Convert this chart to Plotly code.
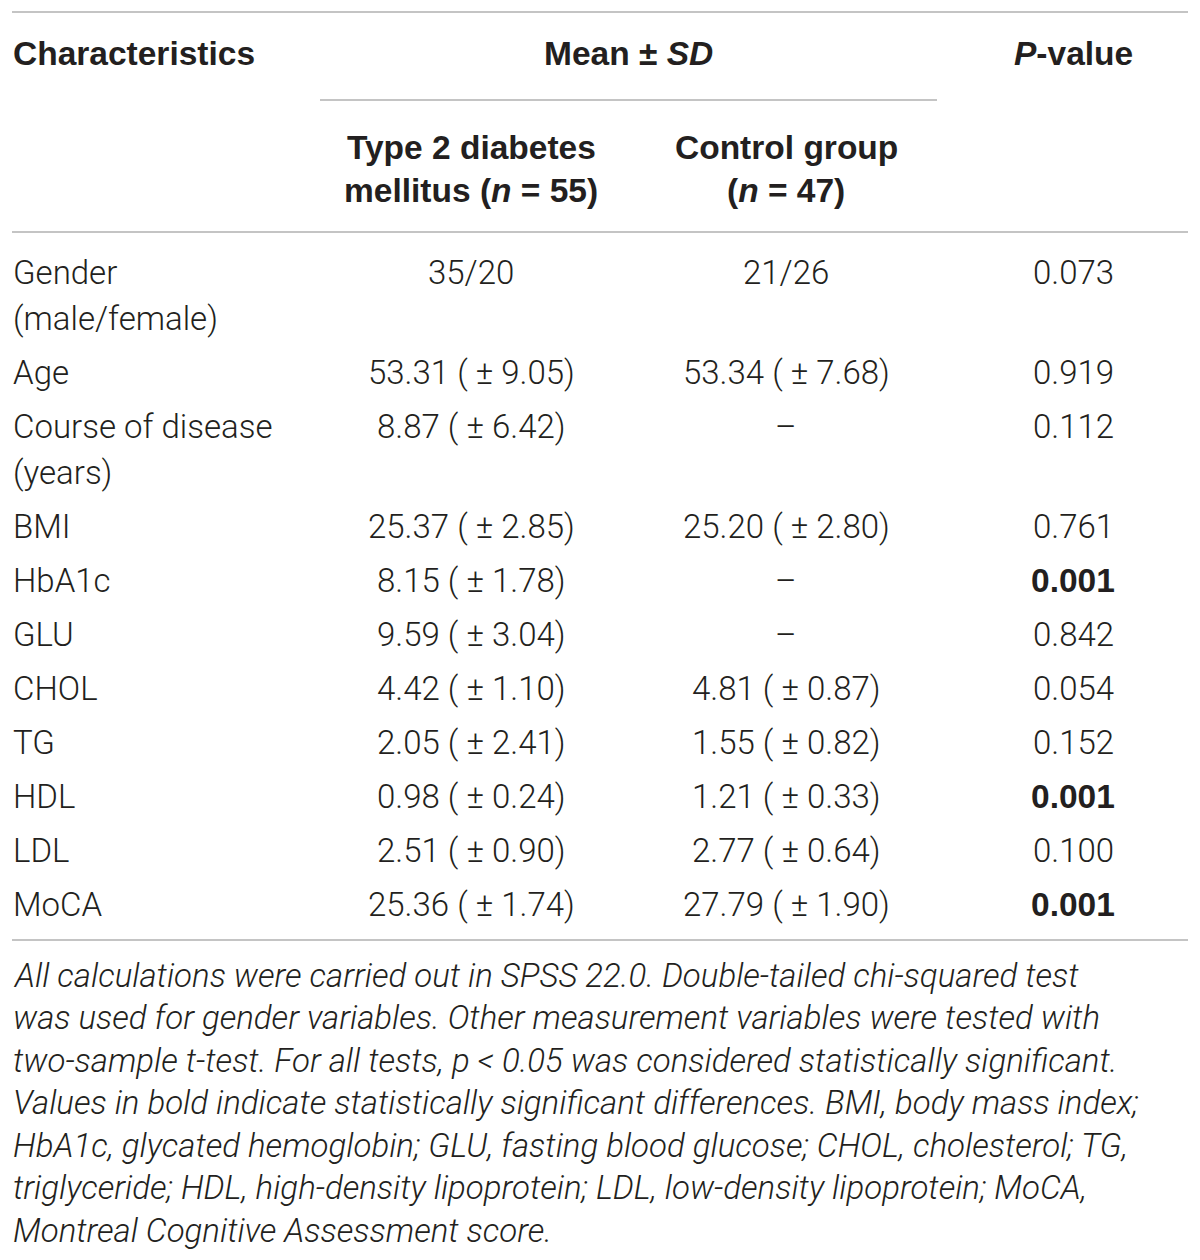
import plotly.graph_objects as go

# table content
characteristics = ["Gender<br>(male/female)", "Age", "Course of disease<br>(years)", "BMI", "HbA1c",
                   "GLU", "CHOL", "TG", "HDL", "LDL", "MoCA"]
t2dm_values = ["35/20", "53.31 ( ± 9.05)", "8.87 ( ± 6.42)", "25.37 ( ± 2.85)", "8.15 ( ± 1.78)",
               "9.59 ( ± 3.04)", "4.42 ( ± 1.10)", "2.05 ( ± 2.41)", "0.98 ( ± 0.24)",
               "2.51 ( ± 0.90)", "25.36 ( ± 1.74)"]
control_values = ["21/26", "53.34 ( ± 7.68)", "–", "25.20 ( ± 2.80)", "–", "–",
                  "4.81 ( ± 0.87)", "1.55 ( ± 0.82)", "1.21 ( ± 0.33)", "2.77 ( ± 0.64)",
                  "27.79 ( ± 1.90)"]
p_values = [0.073, 0.919, 0.112, 0.761, 0.001, 0.842, 0.054, 0.152, 0.001, 0.100, 0.001]

header_top = ["Characteristics", "Mean ± <i>SD</i>", "<i>P</i>-value"]
header_groups = ["Type 2 diabetes<br>mellitus (<i>n</i> = 55)", "Control group<br>(<i>n</i> = 47)"]

footnote = [
    "All calculations were carried out in SPSS 22.0. Double-tailed chi-squared test",
    "was used for gender variables. Other measurement variables were tested with",
    "two-sample t-test. For all tests, p &lt; 0.05 was considered statistically significant.",
    "Values in bold indicate statistically significant differences. BMI, body mass index;",
    "HbA1c, glycated hemoglobin; GLU, fasting blood glucose; CHOL, cholesterol; TG,",
    "triglyceride; HDL, high-density lipoprotein; LDL, low-density lipoprotein; MoCA,",
    "Montreal Cognitive Assessment score.",
]

# layout settings (page pixel units on a hidden axis; page body has an 8px margin)
W, H = 1200, 1260
PAD = 8
LEFT, RIGHT = 12, 1188
X_LABEL, X_T2DM, X_CTRL, X_P = 11, 471, 786, 1073
TEXT = "#231f20"
RULE = "#c4c4c4"
BODY = dict(family="Roboto", size=33, color=TEXT, weight=300)
BOLD = dict(family="Liberation Sans", size=33.5, color=TEXT, weight="bold")
ITAL = dict(family="Roboto", size=33, color=TEXT, weight=300, style="italic")

fig = go.Figure()
annotations = []


def add_text(x, y, text, font, anchor="center"):
    annotations.append(dict(x=x, y=y, xref="x", yref="y", text=text, showarrow=False,
                            xanchor=anchor, yanchor="middle", font=font))


def add_lines(x, y0, text, font, step, anchor="center"):
    for k, line in enumerate(text.split("<br>")):
        add_text(x, y0 + k * step, line, font, anchor)


# header
add_text(X_LABEL, 53, header_top[0], BOLD, "left")
add_text(628, 53, header_top[1], BOLD)
add_text(X_P, 53, header_top[2], BOLD)
add_lines(X_T2DM, 147, header_groups[0], BOLD, 43)
add_lines(X_CTRL, 147, header_groups[1], BOLD, 43)

# body rows
y = 272
for name, a, b, p in zip(characteristics, t2dm_values, control_values, p_values):
    add_lines(X_LABEL, y, name, BODY, 46, "left")
    add_text(X_T2DM, y, a, BODY)
    add_text(X_CTRL, y, b, BODY)
    add_text(X_P, y, f"{p:.3f}", BOLD if p < 0.05 else BODY)
    y += 54 + 46 * name.count("<br>")

# footnote
for k, line in enumerate(footnote):
    add_text(X_LABEL, 975 + k * 42.5, line, ITAL, "left")

# horizontal rules
shapes = []
for y0, x0, x1 in [(12, LEFT, RIGHT), (100, 320, 937), (232, LEFT, RIGHT), (940, LEFT, RIGHT)]:
    shapes.append(dict(type="line", xref="x", yref="y", x0=x0, x1=x1, y0=y0, y1=y0,
                       line=dict(color=RULE, width=2)))

fig.update_layout(
    width=W, height=H,
    margin=dict(l=0, r=0, t=0, b=0),
    paper_bgcolor="white", plot_bgcolor="white",
    xaxis=dict(range=[PAD, W + PAD], visible=False, fixedrange=True),
    yaxis=dict(range=[H + PAD, PAD], visible=False, fixedrange=True),
    annotations=annotations, shapes=shapes,
    showlegend=False,
)

fig.write_html("out.html")
